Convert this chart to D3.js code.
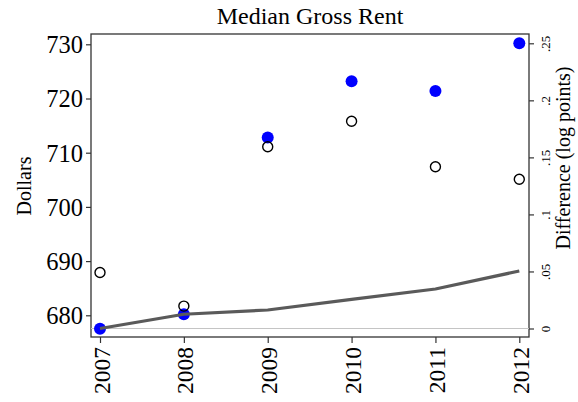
<!DOCTYPE html>
<html>
<head>
<meta charset="utf-8">
<script src="https://d3js.org/d3.v7.min.js"></script>
<style>
body { margin: 0; background: #fff; }
svg text { font-family: "Liberation Serif", "Times New Roman", serif; fill: #000; }
</style>
</head>
<body>
<script>
// data
var years = [2007, 2008, 2009, 2010, 2011, 2012];
var rentBlue = [677.5, 680.2, 712.8, 723.2, 721.4, 730.2];
var rentOpen = [687.9, 681.7, 711.1, 715.8, 707.4, 705.1];
var diffLog = [0, 0.0125, 0.0162, 0.0256, 0.0346, 0.0504];
var leftTicks = [680, 690, 700, 710, 720, 730];
var rightTicks = [0, 0.05, 0.1, 0.15, 0.2, 0.25];
var rightLabels = ["0", ".05", ".1", ".15", ".2", ".25"];

var w = 578, h = 402;
var plotL = 91, plotR = 529, plotT = 34, plotB = 337;

var svg = d3.select("body").append("svg")
  .attr("width", w)
  .attr("height", h);

var x = d3.scaleLinear().domain([2007, 2012]).range([100, 519.3]);
var yL = d3.scaleLinear().domain([680, 730]).range([315.3, 44.3]);
var yR = d3.scaleLinear().domain([0, 0.25]).range([328.5, 43.3]);

// frame
svg.append("rect")
  .attr("x", plotL).attr("y", plotT)
  .attr("width", plotR - plotL).attr("height", plotB - plotT)
  .attr("fill", "none").attr("stroke", "#333").attr("stroke-width", 1.3);

// zero line for right axis
svg.append("line")
  .attr("x1", plotL).attr("x2", plotR)
  .attr("y1", yR(0)).attr("y2", yR(0))
  .attr("stroke", "#c4c4c4").attr("stroke-width", 1.2);

// left axis
var yAxisL = d3.axisLeft(yL).tickValues(leftTicks).tickSize(5).tickPadding(3).tickFormat(d3.format("d"));
var gL = svg.append("g").attr("transform", "translate(" + plotL + ",0)").call(yAxisL);
gL.select(".domain").remove();
gL.selectAll("line").attr("stroke", "#333").attr("stroke-width", 1.2);
gL.selectAll("text").style("font-size", "24.5px").attr("dy", "0.34em");

// right axis
var yAxisR = d3.axisRight(yR).tickValues(rightTicks).tickSize(5).tickFormat(function(d, i) { return rightLabels[i]; });
var gR = svg.append("g").attr("transform", "translate(" + plotR + ",0)").call(yAxisR);
gR.select(".domain").remove();
gR.selectAll("line").attr("stroke", "#333").attr("stroke-width", 1.2);
gR.selectAll("text")
  .style("font-size", "13px")
  .attr("x", null).attr("dy", null)
  .attr("text-anchor", "middle")
  .attr("transform", "translate(21,0) rotate(-90)");

// bottom axis
var xAxis = d3.axisBottom(x).tickValues(years).tickSize(6).tickFormat(d3.format("d"));
var gX = svg.append("g").attr("transform", "translate(0," + plotB + ")").call(xAxis);
gX.select(".domain").remove();
gX.selectAll("line").attr("stroke", "#333").attr("stroke-width", 1.2);
gX.selectAll("text")
  .style("font-size", "23.5px")
  .attr("y", null).attr("dy", null)
  .attr("text-anchor", "end")
  .attr("transform", "translate(9,10) rotate(-90)");

// blue points
svg.selectAll("circle.blue")
  .data(rentBlue)
  .enter().append("circle")
  .attr("class", "blue")
  .attr("cx", function(d, i) { return x(years[i]); })
  .attr("cy", function(d) { return yL(d); })
  .attr("r", 6)
  .attr("fill", "#0000ff");

// open points
svg.selectAll("circle.open")
  .data(rentOpen)
  .enter().append("circle")
  .attr("class", "open")
  .attr("cx", function(d, i) { return x(years[i]); })
  .attr("cy", function(d) { return yL(d); })
  .attr("r", 5)
  .attr("fill", "none")
  .attr("stroke", "#000")
  .attr("stroke-width", 1.4);

// difference line
var line = d3.line()
  .x(function(d, i) { return x(years[i]); })
  .y(function(d) { return yR(d); });
svg.append("path")
  .datum(diffLog)
  .attr("d", line)
  .attr("fill", "none")
  .attr("stroke", "#5a5a5a")
  .attr("stroke-width", 3.2)
  .attr("stroke-linejoin", "round");

// title and axis titles
svg.append("text")
  .attr("x", 310).attr("y", 24)
  .attr("text-anchor", "middle")
  .style("font-size", "24px")
  .text("Median Gross Rent");

svg.append("text")
  .attr("transform", "translate(31,186) rotate(-90)")
  .attr("text-anchor", "middle")
  .style("font-size", "20px")
  .text("Dollars");

svg.append("text")
  .attr("transform", "translate(570,158) rotate(-90)")
  .attr("text-anchor", "middle")
  .style("font-size", "20px")
  .text("Difference (log points)");
</script>
</body>
</html>
